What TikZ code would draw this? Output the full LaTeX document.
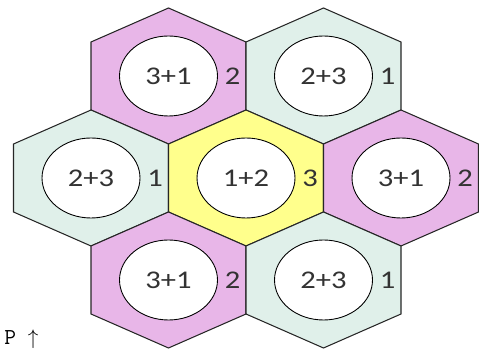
\documentclass[tikz,border=0pt]{standalone}
\usepackage{fontspec}
\setmainfont{Carlito}
\newfontfamily\cellfont[FakeStretch=1.2]{Carlito}
\usepackage{tikz}
\usetikzlibrary{positioning,shapes.geometric}
\definecolor{cellpink}{RGB}{232,182,232}
\definecolor{cellgreen}{RGB}{224,240,234}
\definecolor{cellyellow}{RGB}{255,255,140}

\begin{document}
\begin{tikzpicture}[
  x=0.02cm, y=-0.02cm,
  cell/.style={draw=black!85, line width=0.6pt},
  core/.style={ellipse, draw, fill=white, line width=0.5pt,
               minimum width=1.96cm, minimum height=1.6cm, inner sep=0pt,
               font=\cellfont\fontsize{14.5}{16}\selectfont, text=black!80},
  tag/.style={font=\cellfont\fontsize{14.5}{16}\selectfont, inner sep=0pt, text=black!80}
]
\useasboundingbox (0,0) rectangle (479,350);
% seven cells: centre x, centre y, colour, pair, count, name
\foreach \cx/\cy/\col/\pair/\cnt/\name in {
    168.5/76/cellpink/3+1/2/tl, 323.5/76/cellgreen/2+3/1/tr,
    91/178/cellgreen/2+3/1/ml, 246/178/cellyellow/1+2/3/mc, 401/178/cellpink/3+1/2/mr,
    168.5/280/cellpink/3+1/2/bl, 323.5/280/cellgreen/2+3/1/br}{
  \filldraw[cell, fill=\col] (\cx,\cy-68) -- ++(77.5,34) -- ++(0,68)
      -- ++(-77.5,34) -- ++(-77.5,-34) -- ++(0,-68) -- cycle;
  \node[core] (\name) at (\cx,\cy) {\pair};
  \node[tag, right=0.13cm of \name] (\name-cnt) {\cnt};
}
\node[anchor=base west, font=\ttfamily\fontsize{13}{15}\selectfont, inner sep=0pt]
  (pmark) at (4,345) {P $\uparrow$};
\end{tikzpicture}
\end{document}
